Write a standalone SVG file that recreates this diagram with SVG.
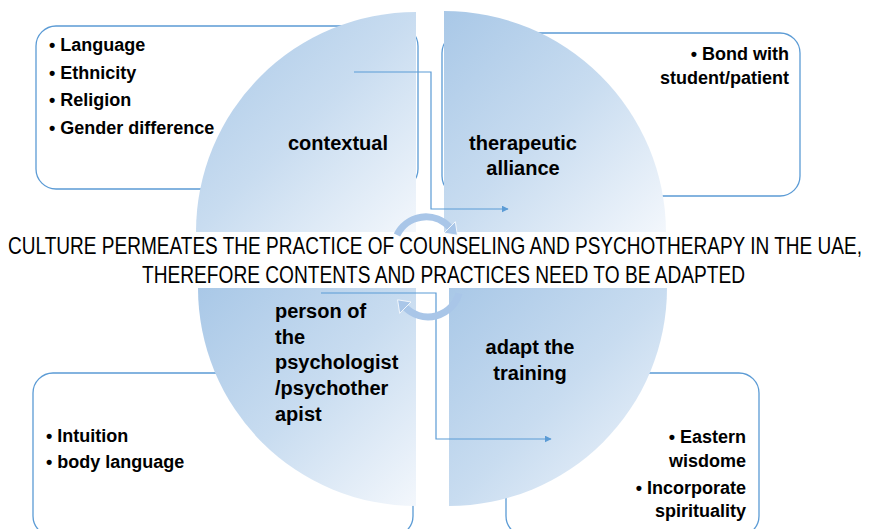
<svg xmlns="http://www.w3.org/2000/svg" width="870" height="529" viewBox="0 0 870 529">
  <defs>
    <linearGradient id="quarterFill" x1="0" y1="0" x2="1" y2="1">
      <stop offset="0" stop-color="#a9c8e7"/>
      <stop offset="0.5" stop-color="#c8dcf0"/>
      <stop offset="1" stop-color="#f3f7fc"/>
    </linearGradient>
    <marker id="arrowHead" viewBox="0 0 10 10" refX="9" refY="5" markerWidth="7" markerHeight="7" markerUnits="userSpaceOnUse" orient="auto">
      <path d="M0,0 L10,5 L0,10 Z" fill="#5b9bd5"/>
    </marker>
  </defs>
  <style>
    .box { fill: #ffffff; stroke: #5b9bd5; stroke-width: 1.3; }
    .quarter { fill: url(#quarterFill); }
    .item { font-family: "Liberation Sans", Arial, sans-serif; font-weight: bold; font-size: 18px; fill: #000000; }
    .label { font-family: "Liberation Sans", Arial, sans-serif; font-weight: bold; font-size: 20px; fill: #000000; }
    .banner { font-family: "Liberation Sans", Arial, sans-serif; font-size: 24px; fill: #000000; }
    .link { fill: none; stroke: #5b9bd5; stroke-width: 1.2; }
    .cycle { fill: #a9c6e8; stroke: #ffffff; stroke-width: 0.8; }
    .cycleBody { fill: none; stroke: #a9c6e8; stroke-width: 7; }
  </style>

  <!-- detail boxes (behind the quarter shapes) -->
  <g id="box-contextual">
    <rect class="box" x="36" y="26" width="382" height="163" rx="20"/>
    <text class="item" x="49" y="51">• Language</text>
    <text class="item" x="49" y="79">• Ethnicity</text>
    <text class="item" x="49" y="106">• Religion</text>
    <text class="item" x="49" y="134">• Gender difference</text>
  </g>
  <g id="box-alliance">
    <rect class="box" x="442" y="33" width="358" height="163" rx="20"/>
    <text class="item" x="789" y="60" text-anchor="end">• Bond with</text>
    <text class="item" x="789" y="84" text-anchor="end">student/patient</text>
  </g>
  <g id="box-person">
    <rect class="box" x="33" y="373" width="380" height="163" rx="20"/>
    <text class="item" x="46" y="442">• Intuition</text>
    <text class="item" x="46" y="468">• body language</text>
  </g>
  <g id="box-training">
    <rect class="box" x="506" y="373" width="253" height="163" rx="20"/>
    <text class="item" x="746" y="443" text-anchor="end">• Eastern</text>
    <text class="item" x="746" y="467" text-anchor="end">wisdome</text>
    <text class="item" x="746" y="494" text-anchor="end">• Incorporate</text>
    <text class="item" x="746" y="517" text-anchor="end">spirituality</text>
  </g>

  <!-- four quarters of the cycle matrix -->
  <g id="node-contextual">
    <path class="quarter" d="M416,232 L196,232 A220,220 0 0 1 416,12 Z"/>
    <text class="label" x="338" y="150" text-anchor="middle">contextual</text>
  </g>
  <g id="node-alliance">
    <path class="quarter" d="M444,232 L444,11 A222,222 0 0 1 666,232 Z"/>
    <text class="label" x="523" y="150" text-anchor="middle">therapeutic</text>
    <text class="label" x="523" y="175" text-anchor="middle">alliance</text>
  </g>
  <g id="node-person">
    <path class="quarter" d="M416,288 L416,506 A218,218 0 0 1 198,288 Z"/>
    <text class="label" x="275" y="318">person of</text>
    <text class="label" x="275" y="344">the</text>
    <text class="label" x="275" y="369">psychologist</text>
    <text class="label" x="275" y="395">/psychother</text>
    <text class="label" x="275" y="421">apist</text>
  </g>
  <g id="node-training">
    <path class="quarter" d="M449,288 L667,288 A218,218 0 0 1 449,506 Z"/>
    <text class="label" x="530" y="354" text-anchor="middle">adapt the</text>
    <text class="label" x="530" y="380" text-anchor="middle">training</text>
  </g>

  <!-- connectors -->
  <g id="connectors">
    <path class="link" d="M354,72 H431 V209 H508" marker-end="url(#arrowHead)"/>
    <path class="link" d="M321,293 H436 V439 H551" marker-end="url(#arrowHead)"/>
  </g>

  <!-- central statement -->
  <g id="center-text">
    <text class="banner" x="8" y="254" textLength="854" lengthAdjust="spacingAndGlyphs">CULTURE PERMEATES THE PRACTICE OF COUNSELING AND PSYCHOTHERAPY IN THE UAE,</text>
    <text class="banner" x="142" y="283" textLength="603" lengthAdjust="spacingAndGlyphs">THEREFORE CONTENTS AND PRACTICES NEED TO BE ADAPTED</text>
  </g>

  <!-- circular arrows in the middle -->
  <g id="cycle-arrows">
    <path class="cycleBody" d="M397,235 A32,32 0 0 1 449.6,227.4"/>
    <path class="cycle" d="M444,233 L455.3,221.7 L457.4,235.2 Z"/>
    <path class="cycleBody" d="M458.9,293.3 A32,32 0 0 1 405.4,307.6"/>
    <path class="cycle" d="M411,302 L399.7,313.3 L397.6,299.8 Z"/>
  </g>
</svg>
